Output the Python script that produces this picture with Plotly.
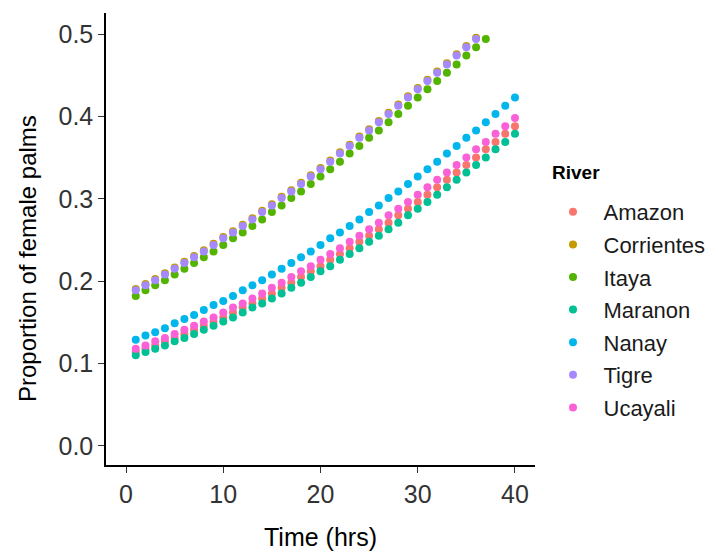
import plotly.graph_objects as go

rivers = ["Amazon", "Corrientes", "Itaya", "Maranon", "Nanay", "Tigre", "Ucayali"]
colors = ["#F8766D", "#C49A00", "#53B400", "#00C094", "#00B6EB", "#A58AFF", "#FB61D7"]

time_40 = list(range(1, 41))
time_37 = list(range(1, 38))
time_36 = list(range(1, 37))

amazon = [0.114, 0.118, 0.122, 0.127, 0.131, 0.136, 0.141, 0.146, 0.151, 0.156,
          0.162, 0.168, 0.173, 0.179, 0.185, 0.192, 0.198, 0.205, 0.212, 0.218,
          0.226, 0.233, 0.240, 0.248, 0.255, 0.263, 0.271, 0.280, 0.288, 0.296,
          0.305, 0.314, 0.323, 0.332, 0.341, 0.350, 0.360, 0.369, 0.379, 0.388]
corrientes = [0.1905, 0.1965, 0.2025, 0.2095, 0.2165, 0.2235, 0.2305, 0.2375, 0.2455, 0.2535,
              0.2605, 0.2685, 0.2765, 0.2855, 0.2935, 0.3025, 0.3105, 0.3195, 0.3285, 0.3375,
              0.3465, 0.3565, 0.3655, 0.3755, 0.3845, 0.3945, 0.4045, 0.4145, 0.4245, 0.4345,
              0.4445, 0.4545, 0.4645, 0.4755, 0.4855, 0.4955]
itaya = [0.182, 0.189, 0.195, 0.201, 0.208, 0.215, 0.222, 0.229, 0.236, 0.244,
         0.252, 0.259, 0.267, 0.275, 0.284, 0.292, 0.301, 0.309, 0.318, 0.327,
         0.336, 0.345, 0.355, 0.364, 0.374, 0.383, 0.393, 0.403, 0.413, 0.423,
         0.433, 0.443, 0.453, 0.463, 0.474, 0.484, 0.494]
maranon = [0.110, 0.114, 0.118, 0.122, 0.127, 0.131, 0.136, 0.141, 0.146, 0.151,
           0.156, 0.162, 0.168, 0.173, 0.179, 0.185, 0.192, 0.198, 0.205, 0.212,
           0.218, 0.226, 0.233, 0.240, 0.248, 0.255, 0.263, 0.271, 0.280, 0.288,
           0.296, 0.305, 0.314, 0.323, 0.332, 0.341, 0.350, 0.360, 0.369, 0.379]
nanay = [0.129, 0.134, 0.138, 0.143, 0.149, 0.154, 0.159, 0.165, 0.171, 0.176,
         0.182, 0.189, 0.195, 0.201, 0.208, 0.215, 0.222, 0.229, 0.236, 0.244,
         0.252, 0.259, 0.267, 0.275, 0.284, 0.292, 0.301, 0.309, 0.318, 0.327,
         0.336, 0.345, 0.355, 0.364, 0.374, 0.383, 0.393, 0.403, 0.413, 0.423]
tigre = [0.189, 0.195, 0.201, 0.208, 0.215, 0.222, 0.229, 0.236, 0.244, 0.252,
         0.259, 0.267, 0.275, 0.284, 0.292, 0.301, 0.309, 0.318, 0.327, 0.336,
         0.345, 0.355, 0.364, 0.374, 0.383, 0.393, 0.403, 0.413, 0.423, 0.433,
         0.443, 0.453, 0.463, 0.474, 0.484, 0.494]
ucayali = [0.118, 0.122, 0.127, 0.131, 0.136, 0.141, 0.146, 0.151, 0.156, 0.162,
           0.168, 0.173, 0.179, 0.185, 0.192, 0.198, 0.205, 0.212, 0.218, 0.226,
           0.233, 0.240, 0.248, 0.255, 0.263, 0.271, 0.280, 0.288, 0.296, 0.305,
           0.314, 0.323, 0.332, 0.341, 0.350, 0.360, 0.369, 0.379, 0.388, 0.398]

series_x = [time_40, time_36, time_37, time_40, time_40, time_36, time_40]
series_y = [amazon, corrientes, itaya, maranon, nanay, tigre, ucayali]

x_ticks = [0, 10, 20, 30, 40]
y_ticks = [0.0, 0.1, 0.2, 0.3, 0.4, 0.5]
y_tick_labels = ["0.0", "0.1", "0.2", "0.3", "0.4", "0.5"]

FONT = "Liberation Sans, Arial, sans-serif"
W, H = 718, 554
ML, MR, MT, MB = 106, 183, 13, 89

fig = go.Figure()
for name, col, xs, ys in zip(rivers, colors, series_x, series_y):
    fig.add_trace(go.Scatter(
        x=xs, y=ys, mode="markers", name=name, legendgroup=name,
        marker=dict(color=col, size=8, line=dict(width=0)),
    ))

pw = W - ML - MR
ph = H - MT - MB


def px_x(p):
    return (p - ML) / pw


def px_y(p):
    return 1 - (p - MT) / ph


fig.update_layout(
    width=W, height=H,
    margin=dict(l=ML, r=MR, t=MT, b=MB, autoexpand=False),
    paper_bgcolor="white", plot_bgcolor="white",
    font=dict(family=FONT, color="black"),
    showlegend=True,
    legend=dict(
        font=dict(size=22, color="#1a1a1a"),
        x=px_x(542.5), xanchor="left", y=px_y(191), yanchor="top",
        tracegroupgap=1, itemwidth=51,
        bgcolor="rgba(0,0,0,0)",
    ),
    xaxis=dict(
        range=[-2.06, 42.06], tickvals=x_ticks, ticks="outside", ticklen=6,
        tickcolor="#333333", tickwidth=1.2,
        showline=True, linecolor="black", linewidth=1.5, showgrid=False, zeroline=False,
        tickfont=dict(size=25, color="#333333"),
        title=dict(text="Time (hrs)", font=dict(size=25, color="black"), standoff=22),
    ),
    yaxis=dict(
        range=[-0.0231, 0.5255], tickvals=y_ticks, ticktext=y_tick_labels, ticks="outside", ticklen=6,
        tickcolor="#333333", tickwidth=1.2,
        showline=True, linecolor="black", linewidth=1.5, showgrid=False, zeroline=False,
        tickfont=dict(size=25, color="#333333"),
    ),
    annotations=[
        dict(text="Proportion of female palms", textangle=-90, showarrow=False,
             xref="paper", yref="paper", x=px_x(27), y=px_y(259),
             xanchor="center", yanchor="middle", font=dict(size=24, color="black")),
        dict(text="<b>River</b>", showarrow=False,
             xref="paper", yref="paper", x=px_x(550), y=px_y(172),
             xanchor="left", yanchor="middle", font=dict(size=19, color="black")),
    ],
)

fig.write_html("out.html")
